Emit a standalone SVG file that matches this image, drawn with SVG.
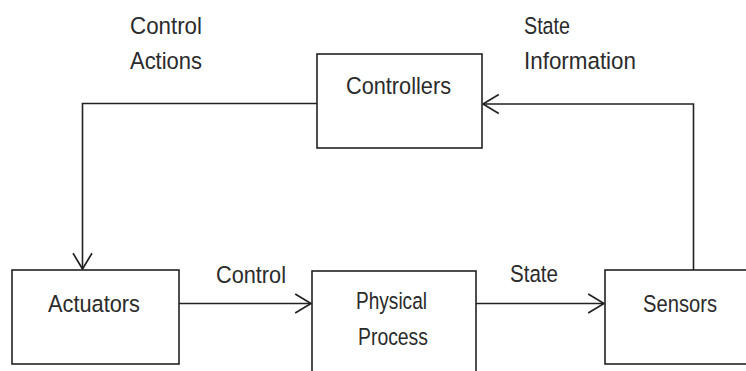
<svg xmlns="http://www.w3.org/2000/svg" width="746" height="371" viewBox="0 0 746 371">
<style>
.box{fill:#fff;stroke:#222;stroke-width:1.6}
.ln{fill:none;stroke:#222;stroke-width:1.6}
text{font-family:"Liberation Sans",Arial,sans-serif;font-size:24.5px;fill:#2b2b2b}
</style>
<defs>
<marker id="ah" markerUnits="userSpaceOnUse" markerWidth="20" markerHeight="24" viewBox="-17 -11 19 22" refX="0" refY="0" orient="auto">
<path d="M-15,-9 L0,0 L-15,9" fill="none" stroke="#222" stroke-width="1.6"/>
</marker>
</defs>
<rect width="746" height="371" fill="#fff"/>
<g id="connectors">
<polyline class="ln" points="317,103.5 82.5,103.5 82.5,269" marker-end="url(#ah)"/>
<polyline class="ln" points="693.5,270 693.5,104 483,104" marker-end="url(#ah)"/>
<line class="ln" x1="179" y1="303.5" x2="311" y2="303.5" marker-end="url(#ah)"/>
<line class="ln" x1="476" y1="303.5" x2="604" y2="303.5" marker-end="url(#ah)"/>
<text x="130" y="34" textLength="72" lengthAdjust="spacingAndGlyphs">Control</text>
<text x="130" y="69" textLength="72" lengthAdjust="spacingAndGlyphs">Actions</text>
<text x="524" y="34" textLength="46" lengthAdjust="spacingAndGlyphs">State</text>
<text x="524" y="69" textLength="112" lengthAdjust="spacingAndGlyphs">Information</text>
<text x="216" y="283" textLength="70" lengthAdjust="spacingAndGlyphs">Control</text>
<text x="510" y="282" textLength="48" lengthAdjust="spacingAndGlyphs">State</text>
</g>
<g id="controllers">
<rect class="box" x="317" y="54" width="165" height="94"/>
<text x="346" y="94" textLength="105" lengthAdjust="spacingAndGlyphs">Controllers</text>
</g>
<g id="actuators">
<rect class="box" x="12" y="270" width="167" height="94"/>
<text x="48" y="312" textLength="92" lengthAdjust="spacingAndGlyphs">Actuators</text>
</g>
<g id="physical-process">
<rect class="box" x="312" y="271" width="164" height="110"/>
<text x="356" y="309" textLength="71" lengthAdjust="spacingAndGlyphs">Physical</text>
<text x="358" y="345" textLength="70" lengthAdjust="spacingAndGlyphs">Process</text>
</g>
<g id="sensors">
<rect class="box" x="605" y="270" width="150" height="94"/>
<text x="643" y="312" textLength="74" lengthAdjust="spacingAndGlyphs">Sensors</text>
</g>
</svg>
